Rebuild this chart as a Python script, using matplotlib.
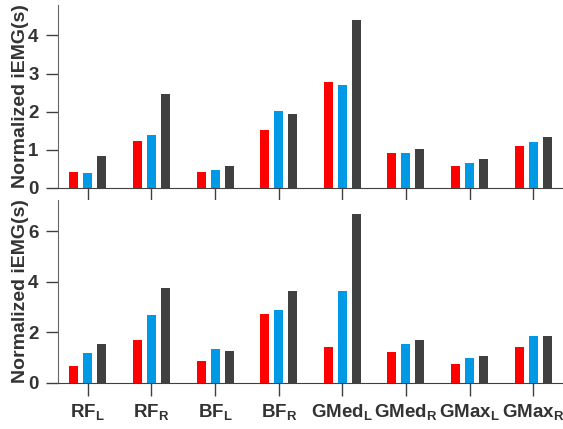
import matplotlib
matplotlib.use("Agg")
import matplotlib.pyplot as plt
import numpy as np

plt.rcParams["font.family"] = ["Liberation Sans", "DejaVu Sans"]
plt.rcParams["font.weight"] = "bold"
plt.rcParams["mathtext.fontset"] = "custom"
plt.rcParams["mathtext.rm"] = "Liberation Sans:bold"
plt.rcParams["mathtext.bf"] = "Liberation Sans:bold"
plt.rcParams["mathtext.it"] = "Liberation Sans:bold"

muscles = ["RF$_L$", "RF$_R$", "BF$_L$", "BF$_R$",
           "GMed$_L$", "GMed$_R$", "GMax$_L$", "GMax$_R$"]

# top panel
top_red = [0.41, 1.23, 0.41, 1.53, 2.79, 0.91, 0.57, 1.10]
top_blue = [0.40, 1.40, 0.46, 2.03, 2.71, 0.91, 0.65, 1.20]
top_dark = [0.83, 2.45, 0.58, 1.93, 4.41, 1.01, 0.76, 1.34]

# bottom panel
bot_red = [0.66, 1.68, 0.87, 2.72, 1.43, 1.22, 0.74, 1.42]
bot_blue = [1.18, 2.69, 1.34, 2.89, 3.63, 1.52, 0.98, 1.85]
bot_dark = [1.54, 3.77, 1.27, 3.62, 6.69, 1.68, 1.05, 1.87]

colors = ["#ff0000", "#0099e5", "#404040"]
txt = "#333333"

fig = plt.figure(figsize=(5.63, 4.29), dpi=100)
fig.patch.set_facecolor("white")
ax1 = fig.add_axes([0.103, 0.562, 0.897, 0.4266])
ax2 = fig.add_axes([0.103, 0.108, 0.897, 0.426])

x = np.arange(1, len(muscles) + 1)
off = 0.22
w = 0.14


def draw(ax, series, ymax, yticks, labels):
    for i, (vals, c) in enumerate(zip(series, colors)):
        ax.bar(x + (i - 1) * off, vals, w, color=c, edgecolor="none")
    ax.set_xlim(0.53, 8.47)
    ax.set_ylim(0, ymax)
    ax.set_yticks(yticks)
    ax.set_xticks(x)
    if labels:
        ax.set_xticklabels(muscles, fontsize=13.5, fontweight="bold", color=txt)
    else:
        ax.set_xticklabels([])
    for s in ["top", "right"]:
        ax.spines[s].set_visible(False)
    ax.spines["left"].set_color("#666666")
    ax.spines["bottom"].set_color("#404040")
    ax.tick_params(direction="out", length=9, width=1, colors="#404040",
                   labelsize=13.5, labelcolor=txt, pad=5)
    for t in ax.get_yticklabels():
        t.set_fontweight("bold")
    ax.set_ylabel("Normalized iEMG(s)", fontsize=14, fontweight="bold",
                  color=txt)
    ax.yaxis.set_label_coords(-0.058, 0.5)


draw(ax1, [top_red, top_blue, top_dark], 4.8, [0, 1, 2, 3, 4], False)
draw(ax2, [bot_red, bot_blue, bot_dark], 7.25, [0, 2, 4, 6], True)

fig.savefig("out.png", dpi=100, facecolor="white")
